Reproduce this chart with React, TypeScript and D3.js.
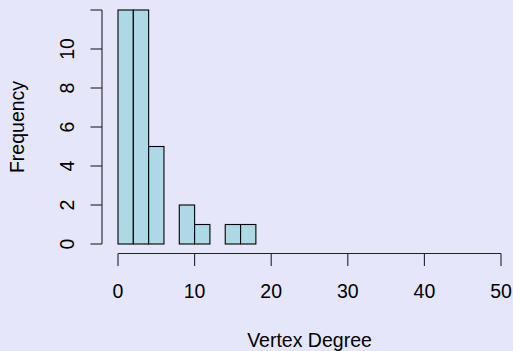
import React from "react";
import * as d3 from "d3";

const binStarts = [0, 2, 4, 6, 8, 10, 12, 14, 16];
const binWidth = 2;
const counts = [12, 12, 5, 0, 2, 1, 0, 1, 1];
const xTicks = [0, 10, 20, 30, 40, 50];
const yTicks = [0, 2, 4, 6, 8, 10, 12];
const yTickLabels = ["0", "2", "4", "6", "8", "10", ""];
const xLabel = "Vertex Degree";
const yLabel = "Frequency";

const W = 513;
const H = 351;
const FONT = "'Liberation Sans', Arial, Helvetica, sans-serif";
const FS = 19.5;

export default function App() {
  const x = d3.scaleLinear().domain([0, 50]).range([118, 501]);
  const y = d3.scaleLinear().domain([0, 12]).range([244, 10]);
  const axisY = 253.5;
  const axisX = 102;
  const ink = "#222";
  return (
    <div style={{ position: "fixed", left: 0, top: 0 }}>
      <svg width={W} height={H} style={{ display: "block" }}>
        <rect x={0} y={0} width={W} height={H} fill="#E6E6FA" />
        {binStarts.map((s, i) => (
          <rect
            key={i}
            x={x(s)}
            y={y(counts[i])}
            width={x(s + binWidth) - x(s)}
            height={y(0) - y(counts[i])}
            fill="#ADD8E6"
            stroke="#000"
            strokeWidth={1.1}
          />
        ))}
        {/* x axis */}
        <line x1={x(xTicks[0])} x2={x(xTicks[xTicks.length - 1])} y1={axisY} y2={axisY} stroke={ink} strokeWidth={1.1} />
        {xTicks.map((t) => (
          <g key={t}>
            <line x1={x(t)} x2={x(t)} y1={axisY} y2={axisY + 12.5} stroke={ink} strokeWidth={1.1} />
            <text x={x(t)} y={298} textAnchor="middle" fontFamily={FONT} fontSize={FS} fill="#000">
              {t}
            </text>
          </g>
        ))}
        {/* y axis */}
        <line x1={axisX} x2={axisX} y1={y(yTicks[0])} y2={y(yTicks[yTicks.length - 1])} stroke={ink} strokeWidth={1.1} />
        {yTicks.map((t, i) => (
          <g key={t}>
            <line x1={axisX - 11.5} x2={axisX} y1={y(t)} y2={y(t)} stroke={ink} strokeWidth={1.1} />
            {yTickLabels[i] && (
              <text
                transform={`translate(74,${y(t)}) rotate(-90)`}
                textAnchor="middle"
                fontFamily={FONT}
                fontSize={FS}
                fill="#000"
              >
                {yTickLabels[i]}
              </text>
            )}
          </g>
        ))}
        <text x={(x(0) + x(50)) / 2} y={346.5} textAnchor="middle" fontFamily={FONT} fontSize={FS} fill="#000">
          {xLabel}
        </text>
        <text
          transform={`translate(24,${y(6)}) rotate(-90)`}
          textAnchor="middle"
          fontFamily={FONT}
          fontSize={FS}
          fill="#000"
        >
          {yLabel}
        </text>
      </svg>
    </div>
  );
}
